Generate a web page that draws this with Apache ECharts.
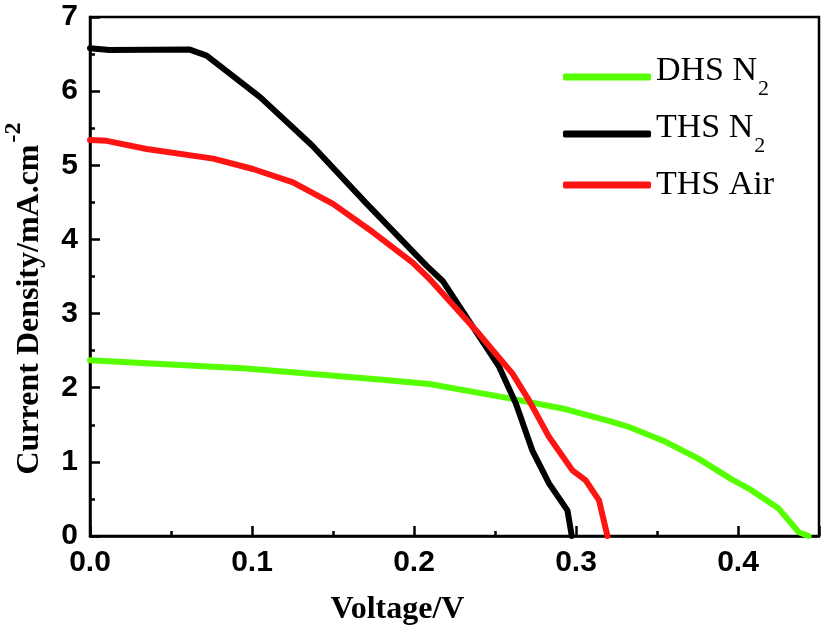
<!DOCTYPE html>
<html>
<head>
<meta charset="utf-8">
<script src="https://cdn.jsdelivr.net/npm/echarts@6/dist/echarts.min.js"></script>
<style>
  html, body { margin: 0; padding: 0; background: #fff; }
  #chart { width: 825px; height: 629px; }
</style>
</head>
<body>
<div id="chart"></div>
<script>
// J-V curves, values
var seriesNames = ['DHS N2', 'THS N2', 'THS Air'];

var dhsN2Volt = [0, 0.0965, 0.1787, 0.2095, 0.2608, 0.2916, 0.3224, 0.3327, 0.3553, 0.3758, 0.3964, 0.4067, 0.4251, 0.4375, 0.4436];
var dhsN2Curr = [2.37, 2.26, 2.11, 2.05, 1.85, 1.72, 1.54, 1.47, 1.27, 1.04, 0.76, 0.64, 0.37, 0.05, 0];

var thsN2Volt = [0, 0.012, 0.0616, 0.072, 0.105, 0.137, 0.170, 0.2075, 0.2177, 0.240, 0.2526, 0.263, 0.273, 0.2834, 0.2947, 0.2974];
var thsN2Curr = [6.58, 6.555, 6.56, 6.48, 5.92, 5.27, 4.50, 3.65, 3.44, 2.70, 2.28, 1.78, 1.155, 0.706, 0.346, 0];

var thsAirVolt = [0, 0.0103, 0.035, 0.076, 0.1006, 0.1253, 0.150, 0.1745, 0.199, 0.2095, 0.240, 0.2608, 0.271, 0.2834, 0.2978, 0.306, 0.3142, 0.3194];
var thsAirCurr = [5.34, 5.33, 5.22, 5.09, 4.95, 4.77, 4.48, 4.10, 3.69, 3.47, 2.73, 2.19, 1.83, 1.334, 0.885, 0.75, 0.48, 0];

var lineColors = ['#55ff00', '#000000', '#ff1414'];

function zip(xs, ys) {
  var out = [];
  for (var i = 0; i < xs.length; i++) {
    out.push([xs[i], ys[i]]);
  }
  return out;
}

var chart = echarts.init(document.getElementById('chart'));

var option = {
  animation: false,
  grid: {
    left: 90,
    right: 6,
    top: 17,
    bottom: 93,
    outerBoundsMode: 'none',
    show: true,
    borderColor: '#000',
    borderWidth: 2.5
  },
  legend: {
    orient: 'vertical',
    left: 558,
    top: 49,
    icon: 'roundRect',
    itemWidth: 88,
    itemHeight: 7,
    itemGap: 11,
    data: seriesNames,
    formatter: function (name) {
      // put the 2 of N2 as subscript
      if (name.slice(-2) === 'N2') {
        return '{t|' + name.slice(0, -1) + '}{sub|2}';
      }
      return '{t|' + name + '}';
    },
    textStyle: {
      fontFamily: 'Liberation Serif',
      fontSize: 34,
      color: '#000',
      rich: {
        t: { fontFamily: 'Liberation Serif', fontSize: 34, verticalAlign: 'top', lineHeight: 34 },
        sub: { fontFamily: 'Liberation Serif', fontSize: 22, verticalAlign: 'top', padding: [24, 0, 0, 1] }
      }
    }
  },
  xAxis: {
    type: 'value',
    min: 0,
    max: 0.45,
    interval: 0.1,
    name: 'Voltage/V',
    nameLocation: 'middle',
    nameGap: 58,
    nameTextStyle: {
      fontFamily: 'Liberation Serif',
      fontWeight: 'bold',
      fontSize: 32,
      color: '#000',
      padding: [0, 114, 0, 0]
    },
    splitLine: { show: false },
    axisLine: { show: true, lineStyle: { color: '#000', width: 2.5 } },
    axisTick: { show: true, inside: true, length: 10, lineStyle: { color: '#000', width: 2.5 } },
    minorTick: { show: true, splitNumber: 2, length: 5, lineStyle: { color: '#000', width: 2.5 } },
    axisLabel: {
      showMaxLabel: false,
      margin: 12,
      fontFamily: 'Liberation Sans',
      fontWeight: 'bold',
      fontSize: 30,
      color: '#000',
      formatter: function (v) { return v.toFixed(1); }
    }
  },
  yAxis: {
    type: 'value',
    min: 0,
    max: 7,
    interval: 1,
    name: '{m|Current Density/mA.cm}{sup|-2}',
    nameLocation: 'middle',
    nameGap: 44,
    nameRotate: 90,
    nameTextStyle: {
      color: '#000',
      padding: [0, 44, 0, 0],
      rich: {
        m: { fontFamily: 'Liberation Serif', fontWeight: 'bold', fontSize: 32, verticalAlign: 'top', padding: [12, 0, 0, 0] },
        sup: { fontFamily: 'Liberation Serif', fontWeight: 'bold', fontSize: 24, verticalAlign: 'top', padding: [0, 0, 0, 2] }
      }
    },
    splitLine: { show: false },
    axisLine: { show: true, lineStyle: { color: '#000', width: 2.5 } },
    axisTick: { show: true, inside: true, length: 10, lineStyle: { color: '#000', width: 2.5 } },
    minorTick: { show: true, splitNumber: 2, length: 5, lineStyle: { color: '#000', width: 2.5 } },
    axisLabel: {
      margin: 12,
      fontFamily: 'Liberation Sans',
      fontWeight: 'bold',
      fontSize: 30,
      color: '#000'
    }
  },
  series: [
    {
      name: seriesNames[0],
      type: 'line',
      showSymbol: false,
      symbol: 'none',
      color: lineColors[0],
      lineStyle: { width: 6, color: lineColors[0], cap: 'round', join: 'round' },
      data: zip(dhsN2Volt, dhsN2Curr)
    },
    {
      name: seriesNames[1],
      type: 'line',
      showSymbol: false,
      symbol: 'none',
      color: lineColors[1],
      lineStyle: { width: 6, color: lineColors[1], cap: 'round', join: 'round' },
      data: zip(thsN2Volt, thsN2Curr)
    },
    {
      name: seriesNames[2],
      type: 'line',
      showSymbol: false,
      symbol: 'none',
      color: lineColors[2],
      lineStyle: { width: 6, color: lineColors[2], cap: 'round', join: 'round' },
      data: zip(thsAirVolt, thsAirCurr)
    }
  ]
};

chart.setOption(option);
window.addEventListener('resize', function () {
  chart.resize();
});
</script>
</body>
</html>
